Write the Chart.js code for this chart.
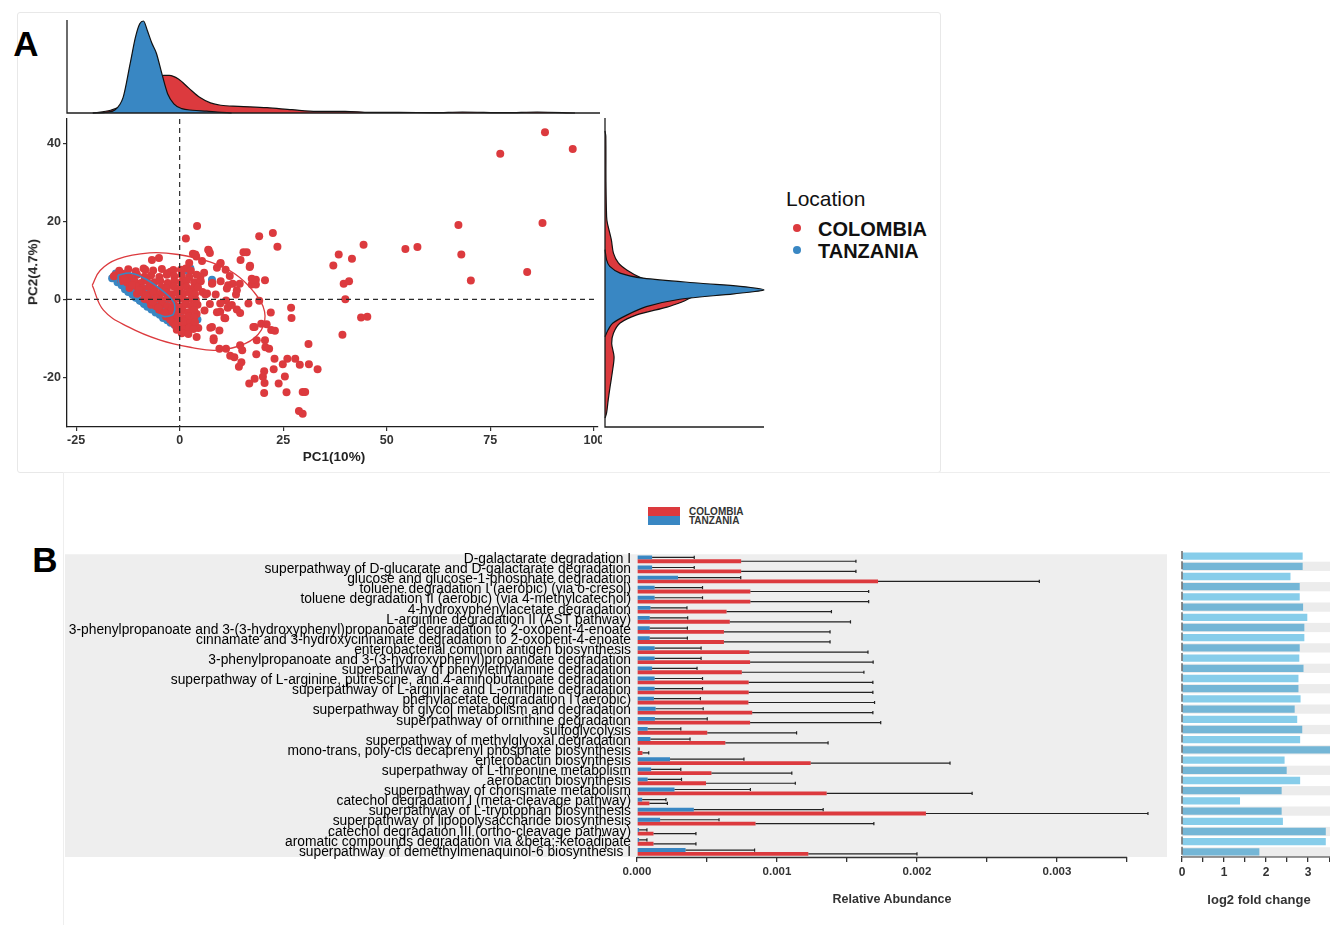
<!DOCTYPE html>
<html><head><meta charset="utf-8">
<script src="https://cdn.jsdelivr.net/npm/chart.js@4"></script>
<style>
body{margin:0;width:1330px;height:925px;background:#fff;position:relative;overflow:hidden;font-family:'Liberation Sans',Arial,Helvetica,sans-serif;}
canvas{position:absolute;}
.t{position:absolute;white-space:nowrap;line-height:1;transform:translate(-50%,-50%);}
.l{position:absolute;white-space:nowrap;line-height:1;transform:translate(0,-50%);}
</style></head><body>
<div style="position:absolute;left:17px;top:12px;width:922px;height:459px;border:1px solid #e8e8e8;border-radius:3px;"></div>
<div style="position:absolute;left:63px;top:472px;width:1267px;height:453px;border-left:1px solid #eeeeee;border-top:1px solid #eeeeee;"></div>
<div class="t" style="left:26px;top:43px;font-size:35px;font-weight:bold;color:#000;">A</div>
<div class="t" style="left:45px;top:559px;font-size:35px;font-weight:bold;color:#000;">B</div>

<canvas id="topDen" width="588" height="103" style="left:17px;top:12px;"></canvas>
<canvas id="scatter" width="585" height="357" style="left:17px;top:115px;"></canvas>
<canvas id="rightDen" width="175" height="315" style="left:604px;top:115px;"></canvas>
<div class="t" style="left:334px;top:457px;font-size:13.5px;font-weight:bold;color:#222;">PC1(10%)</div>
<div class="t" style="left:33px;top:272px;font-size:13.5px;font-weight:bold;color:#222;transform:translate(-50%,-50%) rotate(-90deg);">PC2(4.7%)</div>

<div class="l" style="left:786px;top:198px;font-size:21px;color:#111;">Location</div>
<div style="position:absolute;left:793px;top:224px;width:8px;height:8px;border-radius:50%;background:#dc3a3e;"></div>
<div class="l" style="left:818px;top:229px;font-size:20px;font-weight:bold;color:#111;">COLOMBIA</div>
<div style="position:absolute;left:793px;top:246px;width:8px;height:8px;border-radius:50%;background:#3987c3;"></div>
<div class="l" style="left:818px;top:251px;font-size:20px;font-weight:bold;color:#111;">TANZANIA</div>

<div style="position:absolute;left:648px;top:507px;width:32px;height:9px;background:#dc3a3e;"></div>
<div style="position:absolute;left:648px;top:516px;width:32px;height:9px;background:#3987c3;"></div>
<div class="l" style="left:689px;top:512px;font-size:10px;font-weight:bold;color:#333;">COLOMBIA</div>
<div class="l" style="left:689px;top:521px;font-size:10px;font-weight:bold;color:#333;">TANZANIA</div>

<canvas id="bars" width="1107" height="385" style="left:63px;top:540px;"></canvas>
<canvas id="fold" width="160" height="385" style="left:1170px;top:540px;"></canvas>
<div class="t" style="left:892px;top:899px;font-size:12.5px;font-weight:bold;color:#333;">Relative Abundance</div>
<div class="t" style="left:1259px;top:899px;font-size:13px;font-weight:bold;color:#333;">log2 fold change</div>

<script>
// ---------------- Panel A data ----------------
const pc1Ticks = [-25, 0, 25, 50, 75, 100];
const pc2Ticks = [-20, 0, 20, 40];

const colombiaOutliers = [
[88.2,42.9],[94.9,38.6],[77.4,37.4],[87.6,19.6],[67.3,19.1],[68.0,11.5],[70.3,4.8],[83.9,7.0],[54.5,12.9],[57.4,13.4],
[44.4,14.0],[38.4,11.5],[41.6,10.4],[37.1,8.7],[39.6,4.0],[40.9,4.6],[40.0,0.0],[43.8,-4.7],[45.3,-4.5],[39.3,-9.1],
[4.2,18.8],[1.5,15.6],[19.2,16.2],[22.5,17.0],[23.6,13.5],[15.4,12.1],[14.7,10.1],[17.0,8.6],[17.4,5.3],[18.4,5.0],
[17.4,3.8],[18.4,3.8],[19.2,-0.4],[22.0,-3.4],[26.9,-2.2],[27.0,-4.8],[19.7,-6.3],[18.1,-7.1],[22.1,-7.9],[23.0,-8.1],
[31.1,-11.5],[20.7,-12.3],[21.6,-12.7],[18.5,-14.1],[15.1,-13.1],[12.2,-14.5],[13.2,-14.9],[14.9,-16.2],[14.3,-17.3],[22.9,-15.3],
[26.0,-15.3],[27.9,-15.3],[24.9,-16.7],[29.0,-16.8],[31.2,-16.7],[33.3,-18.0],[22.7,-18.0],[20.4,-18.5],[20.1,-19.9],[18.1,-20.4],
[16.8,-21.6],[20.5,-21.5],[25.4,-19.8],[23.9,-21.6],[20.4,-24.1],[25.8,-23.9],[29.7,-23.8],[30.3,-23.8],[28.8,-28.7],[29.7,-29.4],
[9.6,-12.7],[11.2,-12.7],[8.2,-10.5],[7.4,-7.3],[9.6,-8.0],[10.8,-4.8],[9.0,-3.3],[11.6,-2.2],[13.8,-2.6],[14.6,-3.5],
[11.2,-0.3],[13.6,1.2],[8.7,1.2],[12.8,4.0],[14.5,4.0],[11.7,3.6],[9.9,4.6],[12.1,6.0],[11.1,7.6],[9.9,9.3],
[9.0,8.1],[7.3,11.9],[6.9,12.7],[5.4,9.8],[3.2,11.7],[4.0,11.0],[2.3,9.3],[5.9,6.8],[7.9,4.2],[5.5,1.9],
[6.2,1.2],[7.3,-1.2],[6.0,-2.9],[4.1,-3.8],[4.1,-9.7],[4.5,-7.4],[1.9,-6.2],[-0.7,-7.8],[0.9,-7.1],[-6.7,10.1],
[-5.0,10.6],[-8.3,7.6],[-15.6,6.2],[-14.0,6.6],[-3.0,6.7],[-1.5,7.5],[1.5,7.9],
[16.2,12.1],[16.9,8.3],[17.8,5.0],[20.6,4.9],[13.8,2.3],[16.6,-1.1],[12.6,-1.5],[9.8,-3.2],[11.0,-4.9],[7.8,-7.1],
[8.2,-10.0],[14.6,-11.8],[17.8,-7.1],[21.0,-6.4],[18.6,-10.5],[20.6,-10.5],[3.8,11.5],[7.0,12.6],[9.8,9.1],[5.0,5.7],
[7.8,4.0],[11.4,2.8],[6.6,1.5],[9.8,-1.1]
];
const colombiaCore = [
[-14.6,7.3],[-12.4,7.7],[-10.6,7.2],[-8.7,7.9],[-6.4,7.4],[-4.3,7.8],[-2.2,7.1],[0.3,7.6],[2.7,7.3],
[-15.9,5.9],[-13.9,6.1],[-12.1,5.8],[-10.3,6.3],[-8.5,5.8],[-6.9,6.2],[-4.9,5.7],[-3.1,6.3],[-1.3,5.9],[0.5,6.2],[2.3,5.7],[4.1,6.3],
[-14.1,4.7],[-12.7,4.3],[-10.9,4.6],[-9.3,4.2],[-7.9,4.8],[-6.1,4.4],[-4.7,4.7],[-2.9,4.2],[-1.3,4.6],[0.3,4.3],[1.7,4.8],[3.5,4.4],[5.1,4.6],
[-12.1,2.9],[-10.4,3.3],[-9.1,2.8],[-7.4,3.2],[-6.1,2.7],[-4.4,3.1],[-3.1,2.8],[-1.4,3.3],[0.1,2.9],[1.6,3.2],[3.1,2.7],[4.4,3.1],
[-10.3,1.4],[-9.1,1.8],[-7.5,1.3],[-6.3,1.7],[-4.7,1.4],[-3.5,1.8],[-1.9,1.3],[-0.7,1.7],[0.9,1.4],[2.3,1.8],[3.7,1.3],
[-8.5,0.1],[-7.3,-0.3],[-5.7,0.2],[-4.5,-0.2],[-2.9,0.3],[-1.7,-0.1],[-0.1,0.2],[1.3,-0.3],[2.7,0.1],[3.9,-0.2],
[-6.9,-1.4],[-5.7,-1.8],[-4.1,-1.3],[-2.9,-1.7],[-1.3,-1.4],[0.1,-1.8],[1.5,-1.3],[2.9,-1.7],[4.3,-1.4],
[-4.9,-2.9],[-3.7,-3.3],[-2.1,-2.8],[-0.9,-3.2],[0.7,-2.9],[2.1,-3.3],[3.5,-2.8],
[-3.3,-4.4],[-2.1,-4.7],[-0.5,-4.3],[0.9,-4.8],[2.3,-4.4],[3.5,-4.6],
[-1.7,-5.9],[-0.5,-6.2],[1.1,-5.8],[2.5,-6.1],[3.7,-5.9],
[-0.5,-7.4],[0.9,-7.7],[2.3,-7.3],[3.3,-7.6],
[0.5,-8.7],[2.1,-8.9],
[-13.4,5.3],[-11.5,3.7],[-9.8,2.4],[-8.1,0.9],[-6.5,-0.6],[-5.1,-2.1],[-3.6,-3.6],[-2.3,-5.2],[-1.1,-6.6]
];
const tanzaniaPoints = [
[-16.3,5.4],[-15.4,6.6],[-15.0,4.4],[-14.0,3.6],[-13.2,2.6],[-12.4,1.9],[-11.4,1.2],[-10.6,0.4],[-9.6,-0.4],[-8.6,-1.2],
[-7.8,-1.9],[-6.8,-2.6],[-5.8,-3.4],[-4.8,-4.0],[-4.0,-4.8],[-3.0,-5.4],[-2.2,-6.0],[-1.2,-6.6],[-0.4,-7.2],
[-13.6,4.9],[-12.0,3.8],[-10.4,2.6],[-8.8,1.4],[-7.2,0.2],[-5.6,-1.0],[-4.0,-2.2],[-2.4,-3.4],[-0.8,-4.6],
[-11.2,5.2],[-9.6,4.0],[-8.0,2.8],[-6.4,1.6],[-4.8,0.4],[-3.2,-0.8],[-1.6,-2.0],[0.0,-3.2],
[1.6,7.4],[2.6,7.9],[7.8,5.0],[4.3,-5.2],[-14.8,6.0],[-12.8,6.6]
];
const colombiaEllipse = [[-21.1,3.6],[-19.2,7.4],[-15.0,10.3],[-7.3,11.9],[-0.4,11.5],[7.3,9.6],[13.2,6.6],[17.9,1.9],[20.5,-3.2],[19.7,-7.9],[15.8,-11.4],[9.0,-13.1],[3.0,-12.4],[-4.7,-10.5],[-12.4,-7.1],[-18.4,-2.8],[-21.1,3.6]];
const tanzaniaEllipse = [[-14.9,6.2],[-11.7,6.7],[-7.7,4.9],[-3.8,1.9],[-2.2,0.3],[-1.2,-1.5],[-1.5,-3.8],[-2.5,-4.3],[-3.8,-4.4],[-7.7,-2.6],[-11.7,0.6],[-14.5,3.6],[-14.9,6.2]];

// marginal densities: [PC value, relative density]
const topDensityTanzania = [[-21,0],[-17.5,0.01],[-15.8,0.03],[-13.7,0.17],[-12.0,0.54],[-10.7,0.83],[-9.7,0.97],[-8.8,1.0],[-7.9,0.9],[-6.8,0.76],[-5.7,0.65],[-4.4,0.43],[-3.0,0.21],[-1.5,0.1],[0.4,0.047],[3.0,0.03],[6.4,0.02],[9.0,0.01],[12.4,0]];
const topDensityColombia = [[-21,0],[-16.7,0.03],[-14.1,0.08],[-11.5,0.21],[-9.0,0.34],[-6.0,0.39],[-3.9,0.41],[-2.6,0.41],[-0.4,0.37],[2.1,0.27],[4.7,0.17],[7.3,0.11],[9.8,0.084],[14.1,0.073],[20.9,0.058],[26.9,0.036],[32.9,0.018],[39.7,0.018],[45.7,0.007],[52.6,0.007],[61.1,0.004],[67.9,0.011],[78.2,0.004],[85.9,0.011],[95,0]];
const rightDensityTanzania = [[12.6,0],[10.0,0.01],[8.3,0.03],[6.6,0.095],[5.3,0.24],[4.0,0.6],[3.2,0.85],[2.3,1.0],[1.3,0.81],[-0.1,0.47],[-2.0,0.26],[-4.1,0.14],[-6.2,0.05],[-7.9,0.02],[-9.7,0]];
const rightDensityColombia = [[43,0],[41.6,0.005],[30,0.006],[21.1,0.01],[19.4,0.015],[15.1,0.04],[11.7,0.053],[9.2,0.084],[7.4,0.137],[5.3,0.23],[4.0,0.33],[3.2,0.45],[2.3,0.58],[1.3,0.58],[-0.1,0.52],[-0.85,0.48],[-2.1,0.39],[-4.1,0.2],[-6.2,0.095],[-8.8,0.053],[-11.4,0.042],[-14.8,0.057],[-18.2,0.048],[-22.5,0.032],[-25.9,0.02],[-29.2,0.01],[-30.5,0]];

// ---------------- Panel B data ----------------
const pathways = [
"D-galactarate degradation I",
"superpathway of D-glucarate and D-galactarate degradation",
"glucose and glucose-1-phosphate degradation",
"toluene degradation I (aerobic) (via o-cresol)",
"toluene degradation II (aerobic) (via 4-methylcatechol)",
"4-hydroxyphenylacetate degradation",
"L-arginine degradation II (AST pathway)",
"3-phenylpropanoate and 3-(3-hydroxyphenyl)propanoate degradation to 2-oxopent-4-enoate",
"cinnamate and 3-hydroxycinnamate degradation to 2-oxopent-4-enoate",
"enterobacterial common antigen biosynthesis",
"3-phenylpropanoate and 3-(3-hydroxyphenyl)propanoate degradation",
"superpathway of phenylethylamine degradation",
"superpathway of L-arginine, putrescine, and 4-aminobutanoate degradation",
"superpathway of L-arginine and L-ornithine degradation",
"phenylacetate degradation I (aerobic)",
"superpathway of glycol metabolism and degradation",
"superpathway of ornithine degradation",
"sulfoglycolysis",
"superpathway of methylglyoxal degradation",
"mono-trans, poly-cis decaprenyl phosphate biosynthesis",
"enterobactin biosynthesis",
"superpathway of L-threonine metabolism",
"aerobactin biosynthesis",
"superpathway of chorismate metabolism",
"catechol degradation I (meta-cleavage pathway)",
"superpathway of L-tryptophan biosynthesis",
"superpathway of lipopolysaccharide biosynthesis",
"catechol degradation III (ortho-cleavage pathway)",
"aromatic compounds degradation via &beta;-ketoadipate",
"superpathway of demethylmenaquinol-6 biosynthesis I"
];
const tanzaniaMean = [0.000108,0.000108,0.000293,0.000126,0.000126,0.000096,0.000091,0.000091,0.000091,0.000126,0.000126,0.000108,0.000126,0.000126,0.000121,0.000133,0.000128,0.000076,0.000096,0.00001,0.000236,0.000101,0.000076,0.000268,0.000037,0.000406,0.000165,0.000015,0.000015,0.000347];
const tanzaniaUpper = [0.000409,0.000409,0.000741,0.000468,0.000468,0.000357,0.000362,0.00036,0.00036,0.000458,0.000458,0.000429,0.000468,0.000468,0.000453,0.000473,0.000502,0.000313,0.000379,0.000015,0.000764,0.000313,0.000318,0.00081,0.000207,0.00133,0.000586,0.000071,0.000071,0.00084];
const colombiaMean = [0.000744,0.000744,0.001722,0.00081,0.00081,0.00064,0.000663,0.000621,0.000621,0.000803,0.000808,0.000749,0.000798,0.000798,0.000796,0.000823,0.000808,0.000502,0.000631,0.000039,0.001241,0.000532,0.000493,0.001355,0.000089,0.002064,0.000847,0.000118,0.000118,0.001224];
const colombiaUpper = [0.001564,0.001564,0.002874,0.001655,0.001655,0.001389,0.001525,0.001379,0.001379,0.00165,0.001687,0.001621,0.001685,0.001685,0.001697,0.001685,0.001741,0.00114,0.001365,0.000084,0.002236,0.001106,0.001131,0.002394,0.000217,0.00365,0.001692,0.000421,0.000421,0.002];
const log2FoldChange = [2.87,2.87,2.58,2.80,2.80,2.88,2.98,2.91,2.91,2.80,2.79,2.89,2.77,2.77,2.82,2.68,2.74,2.86,2.81,3.6,2.44,2.49,2.81,2.37,1.38,2.37,2.40,3.42,3.42,1.84];
const abundanceTicks = [0,0.0005,0.001,0.0015,0.002,0.0025,0.003,0.0035];
const foldTicks = [0,0.5,1,1.5,2,2.5,3,3.5];

// ---------------- setup ----------------
const FONT = "'Liberation Sans', Arial, Helvetica, sans-serif";
const RED = '#dc3a3e', BLUE = '#3987c3';
Chart.defaults.font.family = FONT;
Chart.defaults.animation = false;
Chart.defaults.responsive = false;
Chart.defaults.devicePixelRatio = 1;
Chart.defaults.plugins.legend.display = false;
Chart.defaults.plugins.tooltip.enabled = false;

const xy = a => a.map(p => ({x: p[0], y: p[1]}));
const yx = a => a.map(p => ({x: p[1], y: p[0]}));

const marginAxes = {id: 'marginAxes', afterDraw(chart, args, o) {
  const {ctx, chartArea: a} = chart;
  ctx.save(); ctx.strokeStyle = '#1e1e1e'; ctx.lineWidth = 1.3;
  ctx.beginPath(); ctx.moveTo(a.left, a.top - (o.extraTop || 0)); ctx.lineTo(a.left, a.bottom); ctx.lineTo(a.right, a.bottom); ctx.stroke();
  ctx.restore();
}};
const zeroLines = {id: 'zeroLines', afterDatasetsDraw(chart) {
  const {ctx, chartArea: a, scales: {x, y}} = chart;
  const x0 = x.getPixelForValue(0), y0 = y.getPixelForValue(0);
  ctx.save(); ctx.setLineDash([5, 4]); ctx.strokeStyle = '#2a2a2a'; ctx.lineWidth = 1.2;
  ctx.beginPath(); ctx.moveTo(x0, a.top); ctx.lineTo(x0, a.bottom); ctx.moveTo(a.left, y0); ctx.lineTo(a.right, y0); ctx.stroke();
  ctx.restore();
}};

// top marginal density
new Chart(document.getElementById('topDen'), {
  type: 'line',
  data: {datasets: [
    {data: xy(topDensityTanzania), backgroundColor: BLUE, borderColor: '#111', borderWidth: 1.2, pointRadius: 0, fill: 'origin', cubicInterpolationMode: 'monotone', order: 0, clip: 4},
    {data: xy(topDensityColombia), backgroundColor: RED, borderColor: '#111', borderWidth: 1.2, pointRadius: 0, fill: 'origin', cubicInterpolationMode: 'monotone', order: 1, clip: 4}
  ]},
  options: {
    layout: {padding: {left: 50, right: 5, top: 9, bottom: 2}},
    scales: {x: {type: 'linear', min: -27.2, max: 101, display: false}, y: {min: 0, max: 1.0, display: false}},
    plugins: {marginAxes: {extraTop: 1}}
  },
  plugins: [marginAxes]
});

// scatter
const tickFontA = {size: 12.5, weight: 'bold', family: FONT};
new Chart(document.getElementById('scatter'), {
  type: 'scatter',
  data: {datasets: [
    {data: xy(colombiaEllipse), showLine: true, borderColor: RED, borderWidth: 1.3, pointRadius: 0, tension: 0.4, fill: false, order: 0},
    {data: xy(tanzaniaEllipse), showLine: true, borderColor: BLUE, borderWidth: 1.6, pointRadius: 0, tension: 0.4, fill: false, order: 0},
    {label: 'COLOMBIA', data: xy(colombiaOutliers.concat(colombiaCore)), backgroundColor: RED, pointRadius: 4, pointBorderWidth: 0, order: 1},
    {label: 'TANZANIA', data: xy(tanzaniaPoints), backgroundColor: BLUE, pointRadius: 4, pointBorderWidth: 0, order: 2}
  ]},
  options: {
    layout: {padding: {left: 0, right: 2, top: 3, bottom: 0}},
    scales: {
      x: {type: 'linear', min: -27.2, max: 101,
        afterBuildTicks(s) { s.ticks = pc1Ticks.map(v => ({value: v})); },
        afterFit(s) { s.height = 45; s.paddingLeft = 0; s.paddingRight = 0; },
        grid: {display: true, drawOnChartArea: false, drawTicks: true, tickLength: 4, color: '#333', lineWidth: 1.2},
        border: {display: true, color: '#1e1e1e', width: 1.3},
        ticks: {font: tickFontA, color: '#333', padding: 2, maxRotation: 0}},
      y: {type: 'linear', min: -32.8, max: 46.3,
        afterBuildTicks(s) { s.ticks = pc2Ticks.map(v => ({value: v})); },
        afterFit(s) { s.width = 50; s.paddingTop = 0; s.paddingBottom = 0; },
        grid: {display: true, drawOnChartArea: false, drawTicks: true, tickLength: 4, color: '#333', lineWidth: 1.2},
        border: {display: true, color: '#1e1e1e', width: 1.3},
        ticks: {font: tickFontA, color: '#333', padding: 2}}
    }
  },
  plugins: [zeroLines]
});

// right marginal density
new Chart(document.getElementById('rightDen'), {
  type: 'line',
  data: {datasets: [
    {data: yx(rightDensityTanzania), backgroundColor: BLUE, borderColor: '#111', borderWidth: 1.2, pointRadius: 0, fill: 'origin', tension: 0.3, order: 0, clip: 4},
    {data: yx(rightDensityColombia), backgroundColor: RED, borderColor: '#111', borderWidth: 1.2, pointRadius: 0, fill: 'origin', tension: 0.3, order: 1, clip: 4}
  ]},
  options: {
    indexAxis: 'y',
    layout: {padding: {left: 1, right: 15, top: 3, bottom: 3}},
    scales: {x: {type: 'linear', min: 0, max: 1.0, display: false}, y: {type: 'linear', min: -32.8, max: 46.3, display: false}},
    plugins: {marginAxes: {extraTop: 0}}
  },
  plugins: [marginAxes]
});

// ---------------- Panel B ----------------
const panelBg = {id: 'panelBg', beforeDraw(chart) {
  const {ctx, chartArea: a} = chart;
  ctx.save(); ctx.fillStyle = '#eeeeee'; ctx.fillRect(2, a.top, a.right - 2, a.bottom - a.top); ctx.restore();
}};
const errorBars = {id: 'errorBars', afterDatasetsDraw(chart) {
  const {ctx, scales: {x}} = chart;
  ctx.save(); ctx.strokeStyle = '#222'; ctx.lineWidth = 1.2;
  chart.data.datasets.forEach((ds, i) => {
    chart.getDatasetMeta(i).data.forEach((bar, j) => {
      const x1 = x.getPixelForValue(ds.upper[j]);
      ctx.beginPath(); ctx.moveTo(bar.x, bar.y); ctx.lineTo(x1, bar.y);
      ctx.moveTo(x1, bar.y - 1.6); ctx.lineTo(x1, bar.y + 1.6); ctx.stroke();
    });
  });
  ctx.restore();
}};
const abundanceAxis = {id: 'abundanceAxis', afterDraw(chart) {
  const {ctx, chartArea: a, scales: {x}} = chart;
  ctx.save(); ctx.strokeStyle = '#333'; ctx.lineWidth = 1.5;
  ctx.beginPath(); ctx.moveTo(x.getPixelForValue(0), a.bottom + 0.5); ctx.lineTo(x.getPixelForValue(abundanceTicks[abundanceTicks.length - 1]), a.bottom + 0.5); ctx.stroke();
  ctx.restore();
}};
const tickFontB = {size: 11.5, weight: 'bold', family: FONT};

new Chart(document.getElementById('bars'), {
  type: 'bar',
  data: {labels: pathways, datasets: [
    {label: 'TANZANIA', data: tanzaniaMean, upper: tanzaniaUpper, backgroundColor: BLUE, borderWidth: 0, categoryPercentage: 0.76, barPercentage: 1},
    {label: 'COLOMBIA', data: colombiaMean, upper: colombiaUpper, backgroundColor: RED, borderWidth: 0, categoryPercentage: 0.76, barPercentage: 1}
  ]},
  options: {
    indexAxis: 'y',
    layout: {padding: {left: 0, right: 3, top: 11, bottom: 38}},
    scales: {
      x: {type: 'linear', min: 0, max: 0.003786,
        afterBuildTicks(s) { s.ticks = abundanceTicks.map(v => ({value: v})); },
        afterFit(s) { s.height = 30; s.paddingLeft = 0; s.paddingRight = 0; },
        grid: {display: true, drawOnChartArea: false, drawTicks: true, tickLength: 5, color: '#333', lineWidth: 1.3},
        border: {display: false},
        ticks: {font: tickFontB, color: '#333', padding: 3, maxRotation: 0, autoSkip: false,
          callback: v => (Math.abs(v * 1000 - Math.round(v * 1000)) < 1e-6 ? v.toFixed(3) : '')}},
      y: {
        afterFit(s) { s.width = 574; },
        grid: {display: false, drawTicks: false},
        border: {display: false},
        ticks: {autoSkip: false, font: {size: 13.8, family: FONT}, color: '#000', padding: 6}}
    }
  },
  plugins: [panelBg, errorBars, abundanceAxis]
});

const stripes = {id: 'stripes', beforeDatasetsDraw(chart) {
  const {ctx, chartArea: a, scales: {y}} = chart;
  const pitch = y.getPixelForValue(1) - y.getPixelForValue(0);
  ctx.save(); ctx.fillStyle = '#ececec';
  for (let j = 1; j < pathways.length; j += 2) {
    const c = y.getPixelForValue(j);
    ctx.fillRect(a.left, c - pitch / 2 + 0.5, chart.width - a.left, pitch - 1);
  }
  ctx.restore();
}};
const foldLeftAxis = {id: 'foldLeftAxis', afterDraw(chart) {
  const {ctx, chartArea: a} = chart;
  ctx.save(); ctx.strokeStyle = '#444'; ctx.lineWidth = 1.2; ctx.setLineDash([8, 2.2]);
  ctx.beginPath(); ctx.moveTo(a.left, a.top); ctx.lineTo(a.left, a.bottom); ctx.stroke();
  ctx.restore();
}};

new Chart(document.getElementById('fold'), {
  type: 'bar',
  data: {labels: pathways, datasets: [
    {label: 'log2 fold change', data: log2FoldChange,
     backgroundColor: log2FoldChange.map((v, i) => (i % 2 === 0 ? '#87cdea' : '#74b6d6')),
     borderWidth: 0, categoryPercentage: 1, barPercentage: 0.72}
  ]},
  options: {
    indexAxis: 'y',
    layout: {padding: {left: 12, right: 0, top: 11, bottom: 38}},
    scales: {
      x: {type: 'linear', min: 0, max: 3.52,
        afterBuildTicks(s) { s.ticks = foldTicks.map(v => ({value: v})); },
        afterFit(s) { s.height = 30; s.paddingLeft = 0; s.paddingRight = 0; },
        grid: {display: true, drawOnChartArea: false, drawTicks: true, tickLength: 5, color: '#333', lineWidth: 1.3},
        border: {display: true, color: '#333', width: 1.5},
        ticks: {font: {size: 12, weight: 'bold', family: FONT}, color: '#333', padding: 3, maxRotation: 0, autoSkip: false,
          callback: v => (Number.isInteger(v) ? String(v) : '')}},
      y: {display: false}
    }
  },
  plugins: [stripes, foldLeftAxis]
});
</script>
</body></html>
